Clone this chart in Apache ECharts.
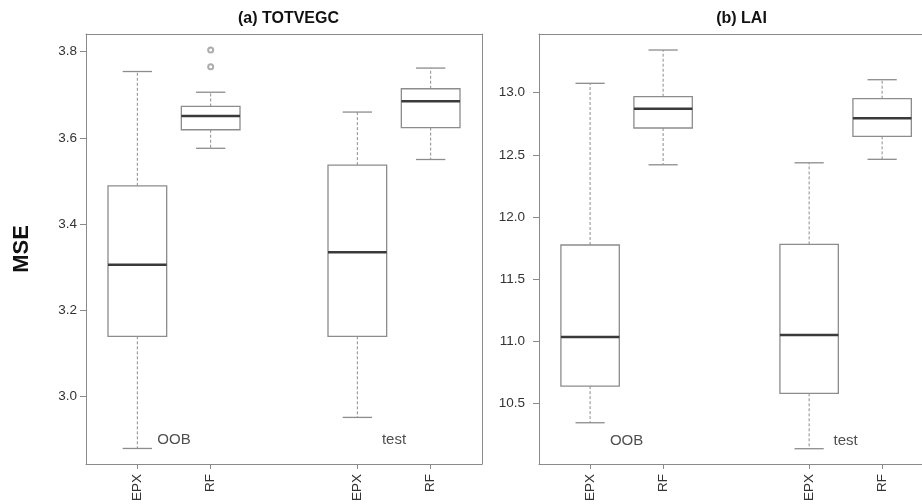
<!DOCTYPE html>
<html>
<head>
<meta charset="utf-8">
<script src="https://cdn.jsdelivr.net/npm/echarts@6/dist/echarts.min.js"></script>
<style>html,body{margin:0;padding:0;background:#fff}#c{width:922px;height:504px}</style>
</head>
<body>
<div id="c"></div>
<script>
// ---- data ----
var xPositions = [1, 2, 4, 5];
var xLabels = ['EPX', 'RF', 'EPX', 'RF'];
// [x, lowerWhisker, Q1, median, Q3, upperWhisker]
var totvegcBoxes = [
  [1, 2.880, 3.140, 3.306, 3.489, 3.754],
  [2, 3.576, 3.619, 3.651, 3.673, 3.706],
  [4, 2.952, 3.140, 3.335, 3.537, 3.660],
  [5, 3.550, 3.624, 3.685, 3.714, 3.762]
];
var totvegcOutliers = [[2, 3.804], [2, 3.765]];
var laiBoxes = [
  [1, 10.343, 10.638, 11.033, 11.774, 13.076],
  [2, 12.420, 12.716, 12.871, 12.968, 13.344],
  [4, 10.134, 10.580, 11.049, 11.779, 12.436],
  [5, 12.464, 12.649, 12.794, 12.952, 13.105]
];
var laiOutliers = [];
var totvegcTicks = [3.0, 3.2, 3.4, 3.6, 3.8];
var laiTicks = [10.5, 11.0, 11.5, 12.0, 12.5, 13.0];
var groupLabels = ['OOB', 'test'];
var totvegcLabelPos = [[1.5, 2.9], [4.5, 2.9]];
var laiLabelPos = [[1.5, 10.2], [4.5, 10.2]];
var panelTitles = ['(a) TOTVEGC', '(b) LAI'];

// ---- styles ----
var FONT = 'Liberation Sans, Arial, Helvetica, sans-serif';
var BOXC = '#8c8c8c';
var AXC = '#8a8a8a';
var TXT = '#333';

function renderBox(params, api) {
  var x = api.value(0);
  var lo = api.value(1), q1 = api.value(2), md = api.value(3), q3 = api.value(4), hi = api.value(5);
  var pLo = api.coord([x, lo]), pQ1 = api.coord([x, q1]), pMd = api.coord([x, md]),
      pQ3 = api.coord([x, q3]), pHi = api.coord([x, hi]);
  var bw = api.size([0.8, 0])[0];
  var cw = api.size([0.4, 0])[0];
  var cx = pMd[0];
  return {
    type: 'group',
    children: [
      {type: 'line', shape: {x1: cx, y1: pQ3[1], x2: cx, y2: pHi[1]},
       style: {stroke: BOXC, lineWidth: 1, lineDash: [3, 2]}},
      {type: 'line', shape: {x1: cx, y1: pQ1[1], x2: cx, y2: pLo[1]},
       style: {stroke: BOXC, lineWidth: 1, lineDash: [3, 2]}},
      {type: 'line', shape: {x1: cx - cw / 2, y1: pHi[1], x2: cx + cw / 2, y2: pHi[1]},
       style: {stroke: BOXC, lineWidth: 1.3}},
      {type: 'line', shape: {x1: cx - cw / 2, y1: pLo[1], x2: cx + cw / 2, y2: pLo[1]},
       style: {stroke: BOXC, lineWidth: 1.3}},
      {type: 'rect', shape: {x: cx - bw / 2, y: pQ3[1], width: bw, height: pQ1[1] - pQ3[1]},
       style: {stroke: BOXC, lineWidth: 1.3, fill: '#fff'}},
      {type: 'line', shape: {x1: cx - bw / 2, y1: pMd[1], x2: cx + bw / 2, y2: pMd[1]},
       style: {stroke: '#3a3a3a', lineWidth: 2.5}}
    ]
  };
}

function xAxisDef(idx, max) {
  return {
    type: 'value', gridIndex: idx, min: 0.3, max: max,
    axisLine: {show: true, onZero: false, lineStyle: {color: AXC, width: 1}},
    axisTick: {show: true, length: 5, customValues: xPositions, lineStyle: {color: AXC}},
    axisLabel: {show: true, rotate: 90, margin: 10, fontSize: 13.5, fontFamily: FONT, color: TXT,
      customValues: xPositions,
      formatter: function (v) { var i = xPositions.indexOf(v); return i >= 0 ? xLabels[i] : ''; }},
    splitLine: {show: false}
  };
}

function frameAxis(kind, idx, min, max, position) {
  return {
    type: 'value', gridIndex: idx, min: min, max: max, position: position,
    axisLine: {show: true, onZero: false, lineStyle: {color: AXC, width: 1}},
    axisTick: {show: false}, axisLabel: {show: false}, splitLine: {show: false}
  };
}

function yAxisDef(idx, min, max, ticks, margin) {
  return {
    type: 'value', gridIndex: idx, min: min, max: max,
    axisLine: {show: true, onZero: false, lineStyle: {color: AXC, width: 1}},
    axisTick: {show: true, length: 6, customValues: ticks, lineStyle: {color: AXC}},
    axisLabel: {show: true, margin: margin, fontSize: 13.5, fontFamily: FONT, color: TXT,
      customValues: ticks,
      formatter: function (v) { return v.toFixed(1); }},
    splitLine: {show: false}
  };
}

function labelSeries(idx, pos) {
  return {
    type: 'scatter', xAxisIndex: idx, yAxisIndex: idx, symbolSize: 0, silent: true,
    data: pos.map(function (p, i) { return {value: p, name: groupLabels[i]}; }),
    label: {show: true, position: 'inside', formatter: '{b}', fontSize: 15, fontFamily: FONT, color: '#222'}
  };
}

function outlierSeries(idx, data) {
  return {
    type: 'scatter', xAxisIndex: idx, yAxisIndex: idx, data: data, symbol: 'emptyCircle',
    symbolSize: 5, z: 5, itemStyle: {color: '#999', borderColor: '#999', borderWidth: 1}
  };
}

var chart = echarts.init(document.getElementById('c'), null, {renderer: 'canvas'});
chart.setOption({
  animation: false,
  backgroundColor: '#fff',
  title: [
    {text: panelTitles[0], left: 283.5, top: 6, textAlign: 'center',
     textStyle: {fontSize: 16, fontWeight: 'bold', fontFamily: FONT, color: '#111'}},
    {text: panelTitles[1], left: 736.5, top: 6, textAlign: 'center',
     textStyle: {fontSize: 16, fontWeight: 'bold', fontFamily: FONT, color: '#111'}}
  ],
  grid: [
    {left: 86, top: 34, width: 396, height: 430, show: false},
    {left: 539, top: 34, width: 384, height: 430, show: false}
  ],
  xAxis: [
    xAxisDef(0, 5.7), xAxisDef(1, 5.546),
    frameAxis('x', 0, 0.3, 5.7, 'top'), frameAxis('x', 1, 0.3, 5.546, 'top')
  ],
  yAxis: [
    Object.assign(yAxisDef(0, 2.844, 3.841, totvegcTicks, 9), {
      name: 'MSE', nameLocation: 'middle', nameRotate: 90, nameGap: 53,
      nameTextStyle: {fontSize: 22, fontWeight: 'bold', fontFamily: FONT, color: '#111'}
    }),
    yAxisDef(1, 10.011, 13.473, laiTicks, 14),
    frameAxis('y', 0, 2.844, 3.841, 'right')
  ],
  series: [
    {type: 'custom', xAxisIndex: 0, yAxisIndex: 0, renderItem: renderBox, data: totvegcBoxes,
     encode: {x: 0, y: [1, 2, 3, 4, 5]}},
    outlierSeries(0, totvegcOutliers),
    labelSeries(0, totvegcLabelPos),
    {type: 'custom', xAxisIndex: 1, yAxisIndex: 1, renderItem: renderBox, data: laiBoxes,
     encode: {x: 0, y: [1, 2, 3, 4, 5]}},
    outlierSeries(1, laiOutliers),
    labelSeries(1, laiLabelPos)
  ]
});
</script>
</body>
</html>
